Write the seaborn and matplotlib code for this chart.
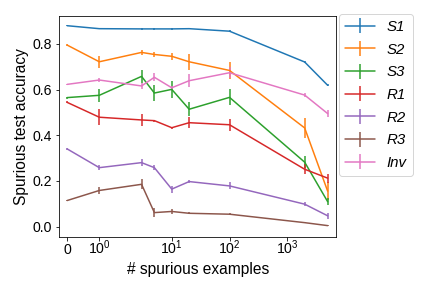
import numpy as np
import matplotlib
matplotlib.use("Agg")
import matplotlib.pyplot as plt
import seaborn as sns

sns.set_style("ticks", {"axes.edgecolor": "black", "text.color": "black",
                        "axes.labelcolor": "black", "xtick.color": "black",
                        "ytick.color": "black"})
plt.rcParams['font.family'] = ['Liberation Sans', 'DejaVu Sans']
plt.rcParams['mathtext.default'] = 'regular'

# number of spurious examples
n_spurious = [0, 1, 3, 5, 10, 20, 100, 2000, 5000]

names = ['S1', 'S2', 'S3', 'R1', 'R2', 'R3', 'Inv']

s1_acc = [0.880, 0.867, 0.866, 0.866, 0.866, 0.867, 0.856, 0.721, 0.619]
s1_err = [0.003, 0.003, 0.003, 0.003, 0.003, 0.003, 0.004, 0.004, 0.005]
s2_acc = [0.795, 0.722, 0.763, 0.754, 0.746, 0.722, 0.684, 0.432, 0.155]
s2_err = [0.004, 0.026, 0.010, 0.010, 0.015, 0.036, 0.036, 0.045, 0.040]
s3_acc = [0.565, 0.575, 0.658, 0.585, 0.601, 0.514, 0.566, 0.282, 0.109]
s3_err = [0.004, 0.028, 0.029, 0.034, 0.036, 0.031, 0.035, 0.026, 0.015]
r1_acc = [0.544, 0.479, 0.467, 0.464, 0.433, 0.455, 0.446, 0.251, 0.212]
r1_err = [0.004, 0.036, 0.026, 0.005, 0.005, 0.024, 0.027, 0.022, 0.020]
r2_acc = [0.340, 0.258, 0.280, 0.258, 0.164, 0.197, 0.178, 0.098, 0.047]
r2_err = [0.003, 0.010, 0.015, 0.012, 0.015, 0.005, 0.015, 0.008, 0.012]
r3_acc = [0.114, 0.158, 0.185, 0.061, 0.066, 0.058, 0.054, 0.017, 0.004]
r3_err = [0.003, 0.015, 0.022, 0.020, 0.010, 0.005, 0.005, 0.003, 0.003]
inv_acc = [0.623, 0.642, 0.616, 0.654, 0.608, 0.639, 0.674, 0.576, 0.495]
inv_err = [0.003, 0.010, 0.012, 0.017, 0.010, 0.028, 0.024, 0.010, 0.016]

all_acc = [s1_acc, s2_acc, s3_acc, r1_acc, r2_acc, r3_acc, inv_acc]
all_err = [s1_err, s2_err, s3_err, r1_err, r2_err, r3_err, inv_err]

colors = sns.color_palette("tab10", len(names))

fig, ax = plt.subplots(figsize=(6, 4), dpi=72)
fig.subplots_adjust(left=0.137, right=0.778, bottom=0.177, top=0.944)

for name, acc, err, c in zip(names, all_acc, all_err, colors):
    ax.errorbar(n_spurious, acc, yerr=err, color=c, linewidth=1.5,
                elinewidth=1.5, capsize=0, label=name)

ax.set_xscale('symlog')
ax.set_xticks([0, 1, 10, 100, 1000])
ax.set_xlim(-0.25, 7000)
ax.set_ylim(-0.046, 0.922)
ax.set_yticks([0.0, 0.2, 0.4, 0.6, 0.8])
ax.tick_params(labelsize=14)
# line up "0" and "10^k" on their baselines
ax.tick_params(axis='x', pad=13.9)
for lab in ax.get_xticklabels():
    lab.set_verticalalignment('baseline')
ax.set_xlabel('# spurious examples', fontsize=15.5, labelpad=4.5)
ax.set_ylabel('Spurious test accuracy', fontsize=15.5)

leg = ax.legend(loc='upper left', bbox_to_anchor=(1.01, 1.01), borderaxespad=0,
                prop={'style': 'italic', 'size': 15}, handlelength=2.0,
                labelspacing=0.58)
leg.get_frame().set_edgecolor('0.8')

plt.savefig('out.png', dpi=72)
